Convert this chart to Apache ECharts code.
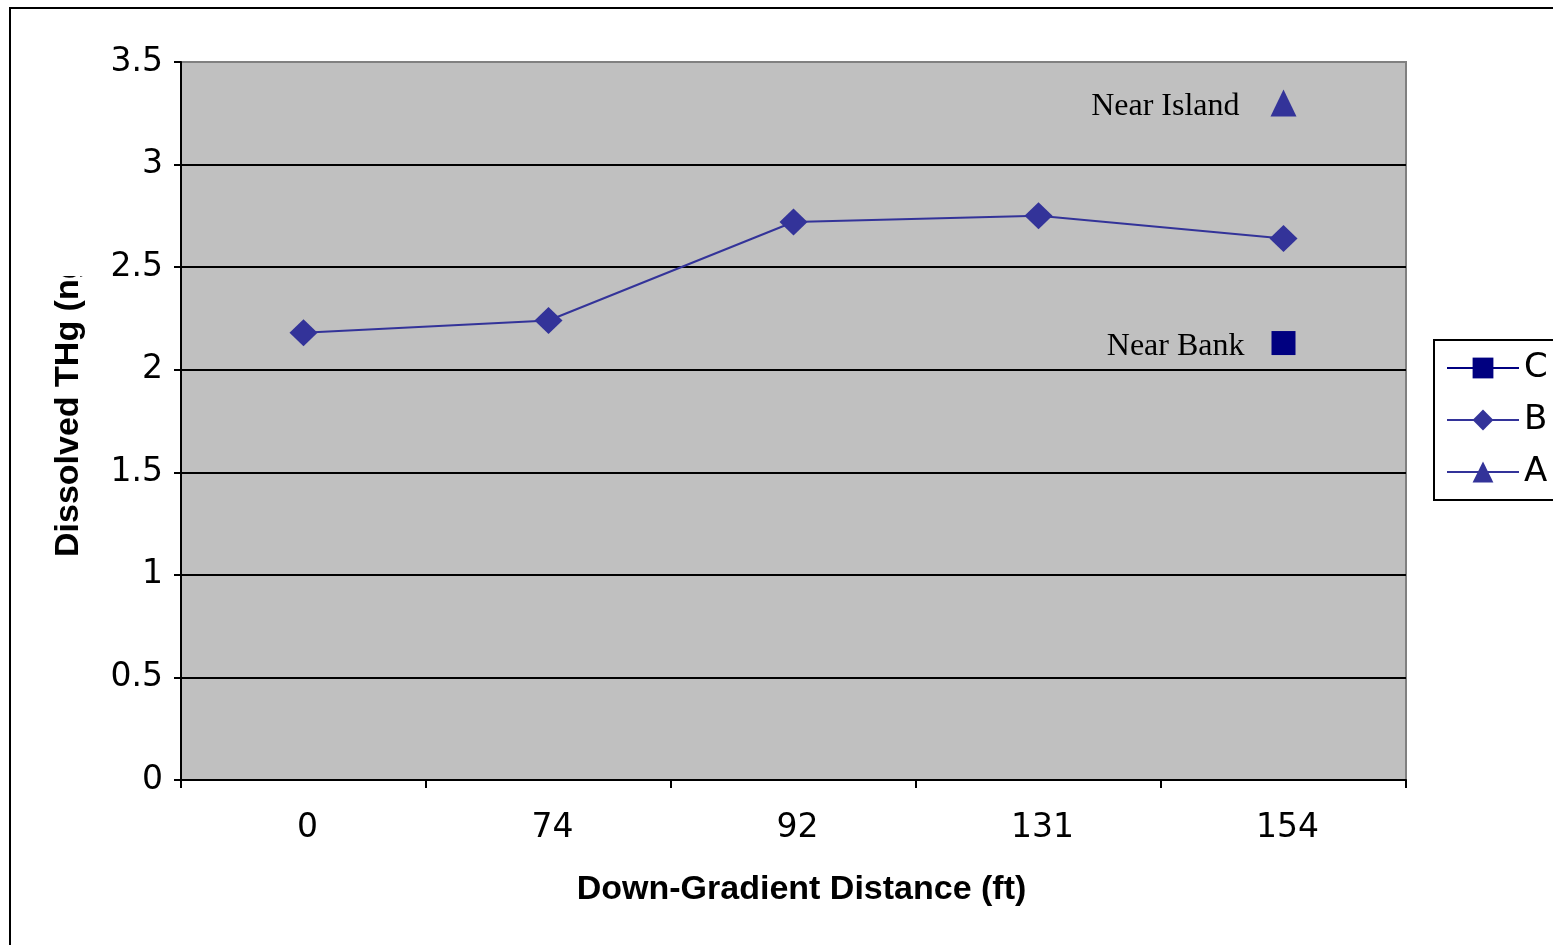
<!DOCTYPE html>
<html>
<head>
<meta charset="utf-8">
<script src="https://cdn.jsdelivr.net/npm/echarts@6/dist/echarts.min.js"></script>
<style>
  html, body { margin: 0; padding: 0; background: #fff; }
  #chart { width: 1553px; height: 945px; }
</style>
</head>
<body>
<div id="chart"></div>
<script>
// Down-gradient distance stations (ft)
const distances = ['0', '74', '92', '131', '154'];
// Dissolved THg along transect B
const seriesB = [2.18, 2.24, 2.72, 2.75, 2.64];
// Single reference samples at the last station
const seriesA = [null, null, null, null, 3.30];   // Near Island
const seriesC = [null, null, null, null, 2.13];   // Near Bank
const yTicks = { min: 0, max: 3.5, step: 0.5 };

const SANS = 'DejaVu Sans';
const BOLD_SANS = 'Liberation Sans';
const SERIF = 'Liberation Serif';

const chart = echarts.init(document.getElementById('chart'), null, { renderer: 'canvas' });

chart.setOption({
  animation: false,
  backgroundColor: '#ffffff',
  grid: {
    left: 181, top: 62, right: 147, bottom: 165,
    show: true,
    backgroundColor: '#C0C0C0',
    borderColor: '#808080',
    borderWidth: 2
  },
  legend: {
    orient: 'vertical',
    left: 1434, top: 340,
    padding: [11, 60, 11, 12],
    itemGap: 18,
    itemWidth: 72,
    itemHeight: 26,
    borderColor: '#000',
    borderWidth: 2,
    backgroundColor: '#fff',
    textStyle: { fontFamily: SANS, fontSize: 34, color: '#000' },
    data: ['C', 'B', 'A']
  },
  xAxis: {
    type: 'category',
    data: distances,
    boundaryGap: true,
    axisLine: { lineStyle: { color: '#000', width: 2 } },
    axisTick: { show: true, length: 8, lineStyle: { color: '#000', width: 2 } },
    axisLabel: { margin: 32, fontFamily: SANS, fontSize: 33, color: '#000', padding: [0, 0, 0, 8] },
    splitLine: { show: false },
    name: 'Down-Gradient Distance (ft)',
    nameLocation: 'middle',
    nameGap: 93,
    nameTextStyle: { fontFamily: BOLD_SANS, fontWeight: 'bold', fontSize: 34, color: '#000', padding: [0, 0, 0, 16] }
  },
  yAxis: {
    type: 'value',
    min: yTicks.min, max: yTicks.max, interval: yTicks.step,
    axisLine: { show: true, lineStyle: { color: '#000', width: 2 } },
    axisTick: { show: true, length: 7, lineStyle: { color: '#000', width: 2 } },
    axisLabel: { margin: 18, fontFamily: SANS, fontSize: 33, color: '#000' },
    splitLine: { show: true, showMinLine: false, showMaxLine: false, lineStyle: { color: '#000', width: 2 } }
  },
  series: [
    {
      name: 'C',
      type: 'line',
      data: seriesC,
      symbol: 'rect',
      symbolSize: 24,
      color: '#000080',
      lineStyle: { color: '#000080', width: 2 },
      itemStyle: { color: '#000080' },
      label: {
        show: true, position: 'left', distance: 27, offset: [0, 4],
        formatter: 'Near Bank',
        fontFamily: SERIF, fontSize: 32, color: '#000'
      },
      z: 3
    },
    {
      name: 'B',
      type: 'line',
      data: seriesB,
      symbol: 'diamond',
      symbolSize: [28, 27],
      color: '#333399',
      lineStyle: { color: '#333399', width: 2 },
      itemStyle: { color: '#333399' },
      z: 3
    },
    {
      name: 'A',
      type: 'line',
      data: seriesA,
      symbol: 'triangle',
      symbolSize: [26, 27],
      color: '#333399',
      lineStyle: { color: '#333399', width: 2 },
      itemStyle: { color: '#333399' },
      label: {
        show: true, position: 'left', distance: 31, offset: [0, 4],
        formatter: 'Near Island',
        fontFamily: SERIF, fontSize: 32, color: '#000'
      },
      z: 3
    }
  ],
  graphic: [
    {
      // chart frame
      type: 'rect',
      shape: { x: 10, y: 8, width: 1600, height: 1000 },
      style: { fill: 'none', stroke: '#000', lineWidth: 2 },
      silent: true,
      z: -1
    },
    {
      // vertical axis title
      type: 'text',
      x: 69, y: 557,
      rotation: Math.PI / 2,
      style: {
        text: 'Dissolved THg (ng/L)',
        x: 0, y: 0,
        font: 'bold 34px "Liberation Sans"',
        fill: '#000',
        textAlign: 'left',
        textVerticalAlign: 'middle'
      },
      z: 10
    },
    {
      // title box edge: the title is cut off above this line
      type: 'rect',
      shape: { x: 44, y: 20, width: 52, height: 256 },
      style: { fill: '#fff' },
      silent: true,
      z: 11
    }
  ]
});
</script>
</body>
</html>
